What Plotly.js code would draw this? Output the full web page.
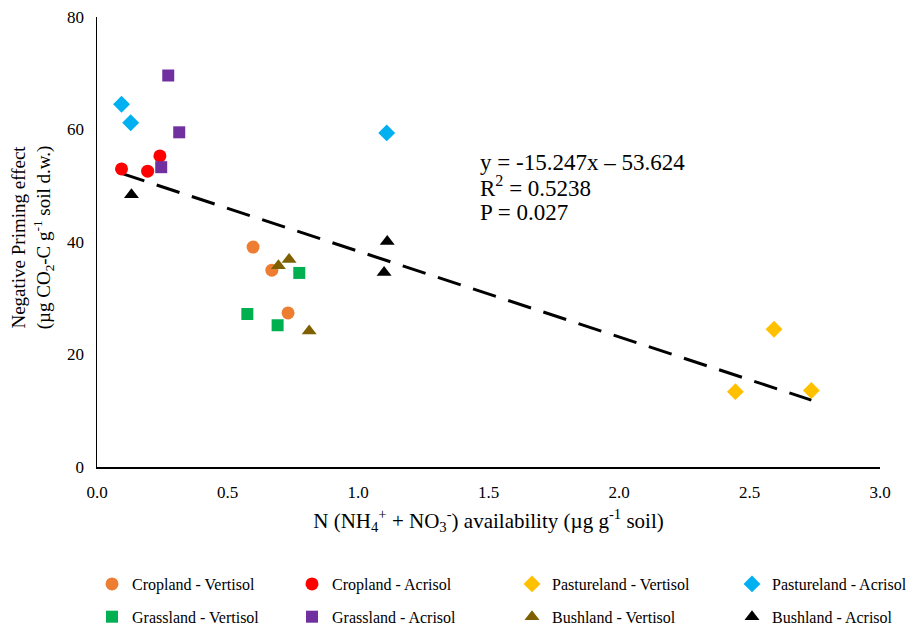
<!DOCTYPE html>
<html>
<head>
<meta charset="utf-8">
<script src="https://cdn.plot.ly/plotly-3.0.1.min.js"></script>
<style>html,body{margin:0;padding:0;background:#fff;}#chart{width:916px;height:629px;}</style>
</head>
<body>
<div id="chart"></div>
<script>
// Series data (x: N availability, y: negative priming effect)
const croplandVertisolX = [0.598, 0.670, 0.732];
const croplandVertisolY = [39.1, 35.0, 27.4];
const croplandAcrisolX = [0.094, 0.194, 0.241];
const croplandAcrisolY = [53.0, 52.6, 55.3];
const pasturelandVertisolX = [2.594, 2.446, 2.737];
const pasturelandVertisolY = [24.5, 13.4, 13.6];
const pasturelandAcrisolX = [0.094, 0.129, 1.110];
const pasturelandAcrisolY = [64.5, 61.2, 59.4];
const grasslandVertisolX = [0.775, 0.576, 0.692];
const grasslandVertisolY = [34.5, 27.2, 25.2];
const grasslandAcrisolX = [0.273, 0.315, 0.246];
const grasslandAcrisolY = [69.6, 59.5, 53.3];
const bushlandVertisolX = [0.695, 0.736, 0.813];
const bushlandVertisolY = [35.8, 36.9, 24.2];
const bushlandAcrisolX = [0.132, 1.112, 1.100];
const bushlandAcrisolY = [48.4, 40.1, 34.6];

// Trendline (from the reported fit)
const trendSlope = -15.247;
const trendIntercept = 53.624;
const trendX = [0.094, 2.737];
const fitLines = ["y = -15.247x – 53.624", "R<sup>2</sup> = 0.5238", "P = 0.027"];

const xTicks = [0, 0.5, 1.0, 1.5, 2.0, 2.5, 3.0];
const xTickLabels = ["0.0", "0.5", "1.0", "1.5", "2.0", "2.5", "3.0"];
const yTicks = [0, 20, 40, 60, 80];
const xTitle = "N (NH<sub>4</sub><sup>+</sup> + NO<sub>3</sub><sup>-</sup>) availability (µg g<sup>-1</sup> soil)";
const yTitle = "Negative Priming effect<br>(µg CO<sub>2</sub>-C g<sup>-1</sup> soil d.w.)";

const series = [
  {name: "Cropland - Vertisol", x: croplandVertisolX, y: croplandVertisolY, color: "#ED7D31", symbol: "circle", size: 13, legend: "legend"},
  {name: "Cropland - Acrisol", x: croplandAcrisolX, y: croplandAcrisolY, color: "#FF0000", symbol: "circle", size: 13, legend: "legend2"},
  {name: "Pastureland - Vertisol", x: pasturelandVertisolX, y: pasturelandVertisolY, color: "#FFC000", symbol: "diamond", size: 13, legend: "legend3"},
  {name: "Pastureland - Acrisol", x: pasturelandAcrisolX, y: pasturelandAcrisolY, color: "#00B0F0", symbol: "diamond", size: 13, legend: "legend4"},
  {name: "Grassland - Vertisol", x: grasslandVertisolX, y: grasslandVertisolY, color: "#00B050", symbol: "square", size: 12, legend: "legend"},
  {name: "Grassland - Acrisol", x: grasslandAcrisolX, y: grasslandAcrisolY, color: "#7030A0", symbol: "square", size: 12, legend: "legend2"},
  {name: "Bushland - Vertisol", x: bushlandVertisolX, y: bushlandVertisolY, color: "#7F6000", symbol: "triangle-up", size: 13, legend: "legend3"},
  {name: "Bushland - Acrisol", x: bushlandAcrisolX, y: bushlandAcrisolY, color: "#000000", symbol: "triangle-up", size: 13, legend: "legend4"}
];

const traces = [{
  x: trendX,
  y: trendX.map(v => trendSlope * v + trendIntercept),
  mode: "lines",
  line: {color: "#000", width: 3, dash: "24px,13px"},
  showlegend: false,
  hoverinfo: "skip"
}];
series.forEach((s, i) => traces.push({
  x: s.x, y: s.y, name: s.name, mode: "markers", type: "scatter",
  legend: s.legend, legendgroup: "g" + i,
  marker: {color: s.color, symbol: s.symbol, size: s.size, line: {width: 0}}
}));

const font = "'Liberation Serif', 'Times New Roman', serif";
function legendAt(xpx) {
  return {
    orientation: "v", x: xpx / 916, xanchor: "left", y: (629 - 567) / 629, yanchor: "top",
    xref: "container", yref: "container",
    itemwidth: 30, tracegroupgap: 9, bgcolor: "rgba(0,0,0,0)",
    font: {family: font, size: 16, color: "#000"}
  };
}
const fitY = [54.2, 49.95, 45.3];
const annotations = fitLines.map((t, i) => ({
  x: 1.462, y: fitY[i], xref: "x", yref: "y", xanchor: "left", yanchor: "middle", align: "left",
  showarrow: false, font: {family: font, size: 23, color: "#000"}, borderpad: 0,
  text: t
}));
annotations.push({
  x: -0.082, y: 0.51, xref: "paper", yref: "paper", xanchor: "center", yanchor: "middle",
  textangle: -90, showarrow: false, align: "center", borderpad: 0,
  font: {family: font, size: 19, color: "#000"}, text: yTitle
});

const layout = {
  width: 916, height: 629,
  margin: {l: 97, r: 36, t: 17, b: 162, autoexpand: false},
  paper_bgcolor: "#fff", plot_bgcolor: "#fff",
  font: {family: font, size: 16, color: "#000"},
  showlegend: true,
  legend: legendAt(92),
  legend2: legendAt(292),
  legend3: legendAt(512),
  legend4: legendAt(732),
  xaxis: {
    range: [0, 3], tickvals: xTicks, ticktext: xTickLabels,
    showgrid: false, zeroline: false, showline: true, linecolor: "#000", linewidth: 1.5,
    ticks: "", ticklen: 0, ticklabelstandoff: 9, tickfont: {family: font, size: 17},
    title: {text: xTitle, font: {family: font, size: 21}, standoff: 12}
  },
  yaxis: {
    range: [0, 80], tickvals: yTicks,
    showgrid: false, zeroline: false, showline: true, linecolor: "#000", linewidth: 1.5,
    ticks: "", ticklen: 0, ticklabelstandoff: 8, tickfont: {family: font, size: 17}
  },
  annotations: annotations
};

Plotly.newPlot("chart", traces, layout, {staticPlot: true, displayModeBar: false});
</script>
</body>
</html>
